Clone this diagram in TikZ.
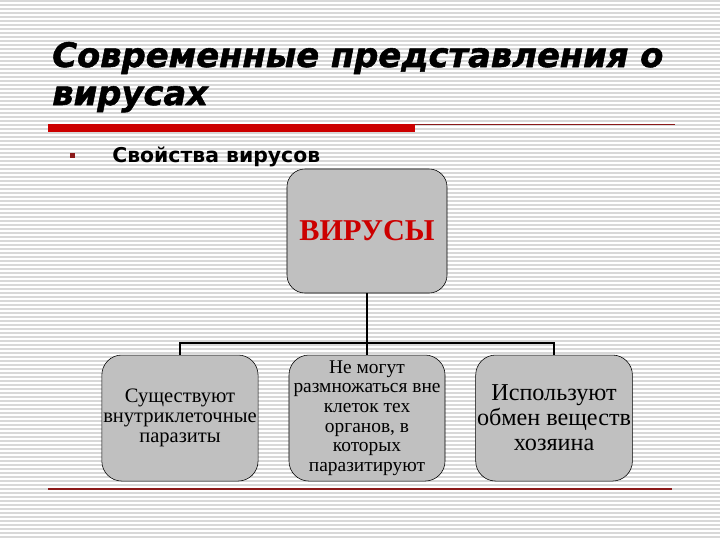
\documentclass[tikz,border=0pt]{standalone}
\usepackage{fontspec}
\setmainfont{Liberation Serif}
\newfontfamily\titlefont{DejaVu Sans}[BoldItalicFeatures={FakeBold=1.6}]
\newfontfamily\headfont{DejaVu Sans}
\definecolor{boxgray}{HTML}{C0C0C0}
\definecolor{slidered}{HTML}{CC0000}
\definecolor{darkred}{HTML}{8B1A1A}
\definecolor{stripe}{HTML}{D8D8D8}
\tikzset{
  virus/.style={draw=black, fill=boxgray, rounded corners=0.45cm,
                minimum width=4cm, minimum height=3.1cm,
                text=slidered, font=\fontsize{21.5}{24}\selectfont\bfseries},
  prop/.style={draw=black, fill=boxgray, rounded corners=0.5cm,
               minimum width=3.9cm, minimum height=3.15cm,
               inner sep=1pt, align=center},
}
\begin{document}
\begin{tikzpicture}
[x=0.025cm, y=-0.025cm,
level 1/.append style={level distance=4.675cm,
                       sibling distance=4.675cm},
edge from parent/.style={draw, line width=1.4pt},
edge from parent path={(\tikzparentnode.south) -- ++(0,-1.25cm)
                       -| (\tikzchildnode.north)}]
\useasboundingbox (0,0) rectangle (720,540);
% striped slide background
\fill[white] (0,0) rectangle (720,540);
\foreach \row in {1,5,...,537}
  \draw[stripe, line width=1.3*0.7113pt] (0,\row) -- (720,\row);
% title and rules
\node[anchor=base west, inner sep=0pt,
      font=\titlefont\bfseries\itshape\fontsize{24}{26}\selectfont]
  (title1) at (52,67) {Современные представления о};
\node[anchor=base west, inner sep=0pt,
      font=\titlefont\bfseries\itshape\fontsize{24}{26}\selectfont]
  (title2) at (52,105) {вирусах};
\fill[slidered] (48,124) rectangle (415,132);
\draw[darkred, line width=0.8pt] (415,124.5) -- (675,124.5);
\draw[darkred, line width=0.8pt] (48,489) -- (672,489);
% bullet
\node[fill=darkred, minimum size=5*0.7113pt, inner sep=0pt] (bullet) at (72,155) {};
\node[anchor=base west, inner sep=0pt,
      font=\headfont\bfseries\fontsize{14.5}{16}\selectfont]
  (props) at (112,162) {Свойства вирусов};
% tree of properties
\node[virus] (viruses) at (367,231) {ВИРУСЫ} % root
child {
  node[prop, font=\fontsize{14.6}{14.4}\selectfont] (intra)
    {Существуют\\внутриклеточные\\паразиты}
}
child {
  node[prop, font=\fontsize{13.8}{13.9}\selectfont] (repro)
    {Не могут\\размножаться вне\\клеток тех\\органов, в\\которых\\паразитируют}
}
child {
  node[prop, font=\fontsize{17.2}{17.8}\selectfont] (metab)
    {Используют\\обмен веществ\\хозяина}
}
;
\end{tikzpicture}
\end{document}
